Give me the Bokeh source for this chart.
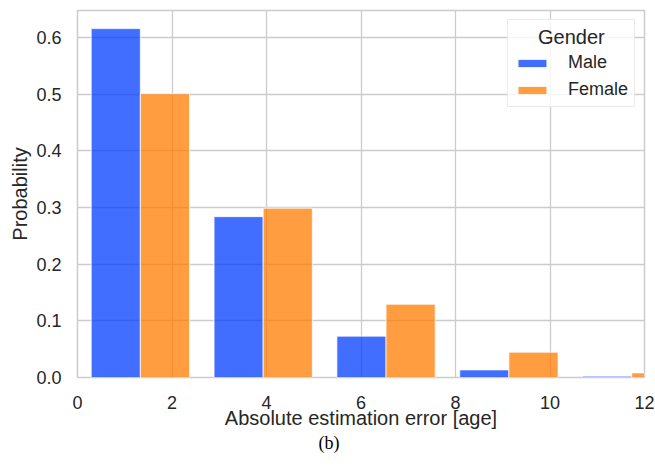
from bokeh.plotting import figure
from bokeh.models import (ColumnDataSource, Range1d, FixedTicker, Legend, LegendItem, Title)
from bokeh.embed import file_html
from bokeh.resources import INLINE

# ---- data ----
bin_starts = [0.29, 2.89, 5.49, 8.09, 10.69]
bin_width = 2.6
male_prob = [0.616, 0.284, 0.073, 0.0134, 0.0023]
female_prob = [0.501, 0.299, 0.1294, 0.0447, 0.0081]
groups = ["Male", "Female"]
group_colors = ["#023eff", "#ff7c00"]
x_ticks = [0, 2, 4, 6, 8, 10, 12]
y_ticks = [0.0, 0.1, 0.2, 0.3, 0.4, 0.5, 0.6]
y_tick_labels = ["0.0", "0.1", "0.2", "0.3", "0.4", "0.5", "0.6"]
x_label = "Absolute estimation error [age]"
y_label = "Probability"
legend_title = "Gender"
caption = "(b)"

FONT = "Liberation Sans"
TXT = "#262626"
GRID = "#cccccc"

shrink = 0.8
bar_w = bin_width * shrink / len(groups)

p = figure(frame_width=567, frame_height=367,
           min_border_left=77, min_border_right=11, min_border_top=10, min_border_bottom=90,
           x_range=Range1d(0, 12), y_range=Range1d(0, 0.648),
           output_backend="svg", toolbar_location=None)

renderers = []
for gi, (name, vals, col) in enumerate(zip(groups, [male_prob, female_prob], group_colors)):
    centers = [s + bar_w * (gi + 0.5) for s in bin_starts]
    src = ColumnDataSource(dict(x=centers, top=vals))
    r = p.vbar(x="x", top="top", bottom=0, width=bar_w, source=src,
               fill_color=col, fill_alpha=0.75, line_color="white", line_alpha=0.75, line_width=1)
    renderers.append((name, r))

p.background_fill_color = "white"
p.border_fill_color = "white"
p.outline_line_color = GRID
p.outline_line_width = 1.5

for g in (p.xgrid, p.ygrid):
    g.grid_line_color = GRID
    g.grid_line_width = 1.3

p.xaxis.ticker = FixedTicker(ticks=x_ticks)
p.yaxis.ticker = FixedTicker(ticks=y_ticks)
p.yaxis.major_label_overrides = {t: l for t, l in zip(y_ticks, y_tick_labels)}
p.xaxis.major_label_overrides = {t: str(t) for t in x_ticks}

for ax in (p.xaxis[0], p.yaxis[0]):
    ax.axis_line_color = None
    ax.major_tick_line_color = None
    ax.minor_tick_line_color = None
    ax.major_tick_out = 0
    ax.major_tick_in = 0
    ax.minor_tick_out = 0
    ax.minor_tick_in = 0
    ax.major_label_text_font = FONT
    ax.major_label_text_font_size = "18px"
    ax.major_label_text_color = TXT
    ax.axis_label_text_font = FONT
    ax.axis_label_text_font_size = "20px"
    ax.axis_label_text_font_style = "normal"
    ax.axis_label_text_color = TXT

p.xaxis.axis_label = x_label
p.yaxis.axis_label = y_label
p.xaxis.major_label_standoff = 18
p.xaxis.axis_label_standoff = -5
p.yaxis.major_label_standoff = 16
p.yaxis.axis_label_standoff = 2

legend = Legend(items=[LegendItem(label=n, renderers=[r]) for n, r in renderers],
                title="\u2003\u2009" + legend_title,
                location="top_right", margin=9, padding=6,
                title_text_font=FONT, title_text_font_size="20px", title_text_color=TXT,
                title_text_font_style="normal", title_standoff=3,
                label_text_font=FONT, label_text_font_size="18px", label_text_color=TXT,
                label_standoff=18, glyph_width=36, glyph_height=10,
                label_height=20, spacing=6,
                border_line_color="#d6d6d6", border_line_width=1,
                background_fill_color="white", background_fill_alpha=0.8)
p.add_layout(legend)

cap = Title(text=caption, align="left", offset=241, standoff=-1,
            text_font="Liberation Serif", text_font_size="18px", text_color="black",
            text_font_style="normal")
p.add_layout(cap, "below")

open("out.html", "w").write(file_html(p, INLINE))
